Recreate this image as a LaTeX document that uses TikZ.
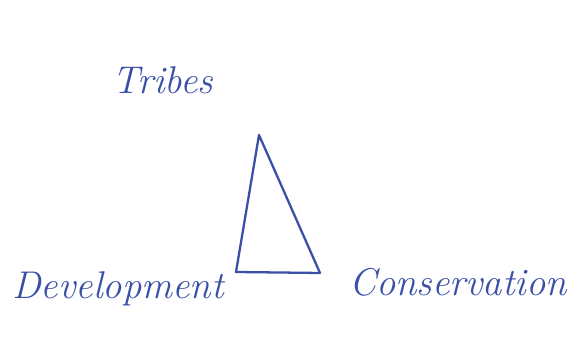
\documentclass[tikz,border=0pt]{standalone}
\usepackage{tikz}
\usetikzlibrary{positioning}
\definecolor{ink}{HTML}{3A4FA8}

\begin{document}
\begin{tikzpicture}[
    every node/.style={font=\fontsize{22}{24}\selectfont\itshape, text=ink},
    label/.style={inner sep=0pt, anchor=center},
    edge/.style={draw=ink, line width=1.3pt, line join=round}
]
\useasboundingbox (0,0) rectangle (11.46,6.88);

% Corners
\coordinate (top) at (5.18,4.18);
\coordinate (left) at (4.72,1.44);
\coordinate (right) at (6.40,1.42);

% Labels
\node[label] (tribes) at (3.26,5.28) {Tribes};
\node[label] (dev) at (2.36,1.10) {Development};
\node[label] (cons) at (9.16,1.24) {Conservation};

% Triangle
\draw[edge] (top) -- (right) -- (left) -- cycle;

\end{tikzpicture}
\end{document}
